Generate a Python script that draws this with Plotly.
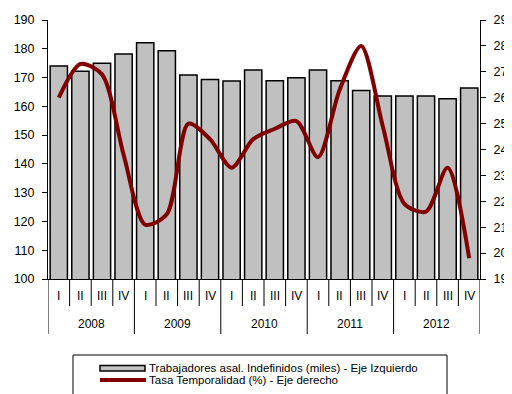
import plotly.graph_objects as go

years = ["2008", "2009", "2010", "2011", "2012"]
quarters = ["I", "II", "III", "IV"]
trabajadores = [174.0, 172.2, 175.0, 178.2, 182.1, 179.3, 170.9, 169.3, 168.8, 172.6,
                168.9, 169.9, 172.6, 168.9, 165.5, 163.6, 163.6, 163.6, 162.6, 166.4]
tasa = [26.0, 27.3, 26.9, 23.8, 21.1, 21.5, 25.0, 24.4, 23.3, 24.4,
        24.8, 25.1, 23.7, 26.3, 28.0, 24.9, 21.9, 21.6, 23.3, 19.8]
legend_names = ["Trabajadores asal. Indefinidos (miles) - Eje Izquierdo",
                "Tasa Temporalidad (%) - Eje derecho"]

n = len(trabajadores)
xs = list(range(n))
qlabels = [quarters[i % 4] for i in range(n)]

BAR_COLOR = "#C0C0C0"
LINE_COLOR = "#800000"

fig = go.Figure()
fig.add_trace(go.Bar(
    x=xs, y=trabajadores, name=legend_names[0],
    marker=dict(color=BAR_COLOR, line=dict(color="black", width=1.5)),
))
fig.add_trace(go.Scatter(
    x=xs, y=tasa, yaxis="y2", mode="lines",
    line=dict(color=LINE_COLOR, width=4, shape="spline", smoothing=0.8),
    name=legend_names[1],
))

font = "Liberation Sans, Arial, sans-serif"
PH = 259.0  # plot height px
PW = 432.0  # plot width px


def py(px):  # page pixel y -> paper y
    return (279 - px) / PH


def pxx(px):  # page pixel x -> paper x
    return (px - 48) / PW


shapes = []
for i in range(n + 1):
    long = (i % 4 == 0)
    shapes.append(dict(type="line", xref="x", yref="paper", x0=i - 0.5, x1=i - 0.5,
                       y0=0, y1=py(334) if long else py(306),
                       line=dict(color="black", width=1)))
# legend box
shapes.append(dict(type="rect", xref="paper", yref="paper",
                   x0=pxx(73), x1=pxx(447), y0=py(355), y1=py(402),
                   line=dict(color="black", width=1)))
# legend swatches
shapes.append(dict(type="rect", xref="paper", yref="paper",
                   x0=pxx(100), x1=pxx(145), y0=py(365.5), y1=py(371),
                   fillcolor=BAR_COLOR, line=dict(color="black", width=1.5)))
shapes.append(dict(type="line", xref="paper", yref="paper",
                   x0=pxx(100), x1=pxx(146), y0=py(380), y1=py(380),
                   line=dict(color=LINE_COLOR, width=4)))

annotations = []
for i, q in enumerate(qlabels):
    annotations.append(dict(x=i, y=py(296), xref="x", yref="paper", text=q, showarrow=False,
                            font=dict(size=12, color="black", family=font), yanchor="middle"))
for k, yr in enumerate(years):
    annotations.append(dict(x=4 * k + 1.5, y=py(324), xref="x", yref="paper", text=yr, showarrow=False,
                            font=dict(size=12, color="black", family=font), yanchor="middle"))
for name, yy in zip(legend_names, [368, 380]):
    annotations.append(dict(x=pxx(147), y=py(yy), xref="paper", yref="paper", text=name,
                            showarrow=False, xanchor="left", yanchor="middle",
                            font=dict(size=11.5, color="black", family=font)))

# page body has an 8px margin: compensate so the plot area sits at x 48-480, y 20-279
fig.update_layout(
    width=504, height=386,
    margin=dict(l=40, r=32, t=12, b=115),
    paper_bgcolor="white", plot_bgcolor="white",
    bargap=0.2,
    font=dict(family=font, size=12, color="black"),
    xaxis=dict(range=[-0.5, n - 0.5], showticklabels=False, ticks="", showgrid=False,
               zeroline=False, showline=True, linecolor="black", linewidth=1, fixedrange=True,
               automargin=False),
    yaxis=dict(range=[100, 190], dtick=10, ticks="outside", ticklen=5, tickcolor="black",
               showgrid=False, zeroline=False, showline=True, linecolor="black", linewidth=1,
               tickfont=dict(size=12.5), automargin=False, ticklabelstandoff=5),
    yaxis2=dict(range=[19, 29], dtick=1, overlaying="y", side="right", ticks="outside", ticklen=5,
                tickcolor="black", showgrid=False, zeroline=False, showline=True, linecolor="black",
                linewidth=1, tickfont=dict(size=12.5), automargin=False, ticklabelstandoff=5),
    shapes=shapes, annotations=annotations,
    showlegend=False,
)

fig.write_html("out.html")
